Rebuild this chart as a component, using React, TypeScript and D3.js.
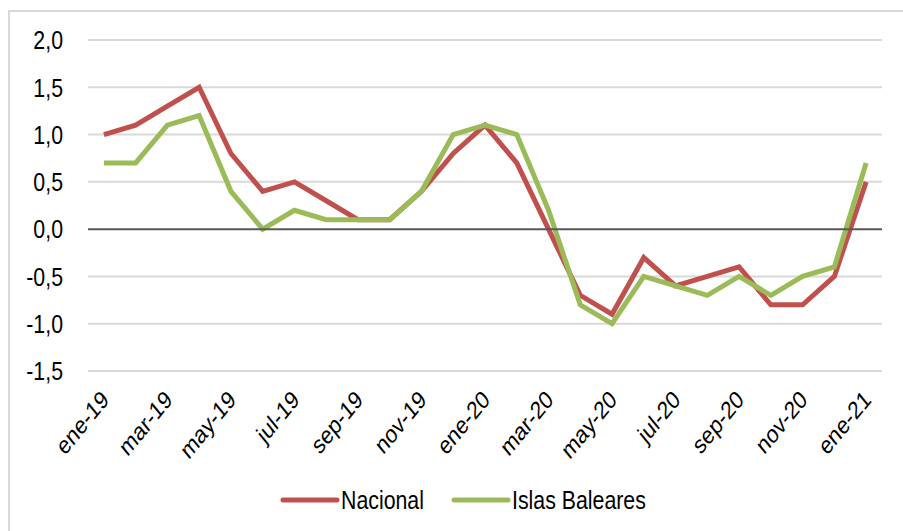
import React from "react";
import * as d3 from "d3";

const months = [
  "ene-19","feb-19","mar-19","abr-19","may-19","jun-19","jul-19","ago-19","sep-19","oct-19","nov-19","dic-19",
  "ene-20","feb-20","mar-20","abr-20","may-20","jun-20","jul-20","ago-20","sep-20","oct-20","nov-20","dic-20",
  "ene-21",
];
const nacional = [1.0,1.1,1.3,1.5,0.8,0.4,0.5,0.3,0.1,0.1,0.4,0.8,1.1,0.7,0.0,-0.7,-0.9,-0.3,-0.6,-0.5,-0.4,-0.8,-0.8,-0.5,0.5];
const baleares = [0.7,0.7,1.1,1.2,0.4,0.0,0.2,0.1,0.1,0.1,0.4,1.0,1.1,1.0,0.2,-0.8,-1.0,-0.5,-0.6,-0.7,-0.5,-0.7,-0.5,-0.4,0.7];
const yTicks = [2.0,1.5,1.0,0.5,0.0,-0.5,-1.0,-1.5];
const seriesNames = ["Nacional","Islas Baleares"];
const colors = ["#C0504D","#9BBB59"];

const W = 903, H = 531;
const left = 88, right = 882, top = 40, bottom = 371;
const FONT = "'Liberation Sans', Arial, sans-serif";
const SX = 0.82;

export default function App() {
  const x = d3.scalePoint<string>().domain(months).range([left, right]).padding(0.5);
  const y = d3.scaleLinear().domain([-1.5, 2.0]).range([bottom, top]);
  const fmt = (v: number) => d3.format(".1f")(v).replace(".", ",").replace("−", "-");
  const line = d3.line<number>().x((_, i) => x(months[i])!).y((d) => y(d));
  const data = [nacional, baleares];
  const labelMonths = months.filter((_, i) => i % 2 === 0);
  return (
    <svg width={W} height={H} style={{ position: "absolute", left: 0, top: 0, background: "#fff" }}>
      <rect x={9} y={11} width={W} height={H} fill="#fff" stroke="#D9D9D9" strokeWidth={2} />
      {yTicks.map((t) => (
        <g key={t}>
          {t !== 0 && (
            <line x1={left} x2={right} y1={y(t)} y2={y(t)} stroke="#D9D9D9" strokeWidth={2} />
          )}
          <text
            transform={`translate(63,${y(t)}) scale(${SX},1)`}
            textAnchor="end"
            dominantBaseline="central"
            fontFamily={FONT}
            fontSize={26}
            fill="#000"
          >
            {fmt(t)}
          </text>
        </g>
      ))}
      {data.map((d, i) => (
        <path key={i} d={line(d)!} fill="none" stroke={colors[i]} strokeWidth={5} strokeLinejoin="miter" />
      ))}
      <line x1={left} x2={right} y1={y(0)} y2={y(0)} stroke="#595959" strokeWidth={2} />
      {labelMonths.map((m) => (
        <text
          key={m}
          transform={`translate(${x(m)! + 1},${bottom + 24}) scale(${SX},1) rotate(-45)`}
          textAnchor="end"
          dominantBaseline="central"
          fontFamily={FONT}
          fontSize={25}
          fill="#000"
        >
          {m}
        </text>
      ))}
      {seriesNames.map((n, i) => {
        const lx = [283, 454][i];
        return (
          <g key={n}>
            <line x1={lx} x2={lx + 54} y1={500} y2={500} stroke={colors[i]} strokeWidth={5} strokeLinecap="round" />
            <text
              transform={`translate(${lx + 58},500) scale(${SX},1)`}
              dominantBaseline="central"
              fontFamily={FONT}
              fontSize={26}
              fill="#000"
            >
              {n}
            </text>
          </g>
        );
      })}
    </svg>
  );
}
